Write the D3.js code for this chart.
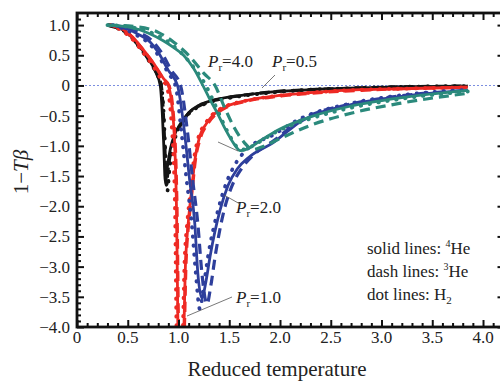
<!DOCTYPE html>
<html>
<head>
<meta charset="utf-8">
<script src="https://cdn.jsdelivr.net/npm/d3@7/dist/d3.min.js"></script>
<style>
  html, body { margin: 0; padding: 0; background: #fff; }
  svg { display: block; }
</style>
</head>
<body>
<svg id="chart" width="500" height="381" font-family="'Liberation Serif', 'Times New Roman', 'DejaVu Serif', serif"></svg>
<script>
// Reduced temperature vs. 1 - T*beta for three fluids at four reduced pressures.
// Each series is a list of [reduced temperature, 1 - T*beta] samples.

// P_r = 0.5 (black)
const he4_p05 = [[0.30,1.0],[0.40,0.96],[0.50,0.87],[0.60,0.68],[0.70,0.45],[0.77,0.24],[0.82,0.0],[0.84,-0.45],[0.855,-1.0],[0.87,-1.6],[0.89,-1.35],[0.92,-1.05],[0.96,-0.82],[1.01,-0.66],[1.10,-0.45],[1.20,-0.33],[1.35,-0.24],[1.60,-0.17],[1.90,-0.11],[2.30,-0.07],[2.80,-0.04],[3.30,-0.02],[3.85,-0.01]];
const he3_p05 = [[0.30,1.0],[0.40,0.95],[0.50,0.86],[0.60,0.67],[0.70,0.44],[0.78,0.22],[0.83,0.0],[0.85,-0.45],[0.865,-1.0],[0.88,-1.65],[0.90,-1.35],[0.93,-1.05],[0.97,-0.82],[1.02,-0.66],[1.10,-0.46],[1.20,-0.34],[1.35,-0.25],[1.60,-0.17],[1.90,-0.11],[2.30,-0.07],[2.80,-0.04],[3.30,-0.02],[3.85,-0.01]];
const h2_p05  = [[0.32,1.0],[0.42,0.93],[0.52,0.82],[0.62,0.62],[0.72,0.38],[0.79,0.18],[0.83,0.0],[0.855,-0.5],[0.87,-1.1],[0.89,-1.75],[0.91,-1.40],[0.94,-1.05],[0.98,-0.80],[1.03,-0.64],[1.10,-0.47],[1.20,-0.35],[1.35,-0.26],[1.60,-0.18],[1.90,-0.12],[2.30,-0.07],[2.80,-0.04],[3.30,-0.02],[3.85,-0.01]];

// P_r = 1.0 (red)
const he4_p10 = [[0.33,1.0],[0.45,0.93],[0.55,0.80],[0.65,0.60],[0.75,0.38],[0.85,0.12],[0.90,0.0],[0.95,-0.60],[0.98,-2.0],[1.00,-4.3],[1.045,-4.3],[1.07,-2.9],[1.10,-2.2],[1.13,-1.73],[1.16,-1.25],[1.20,-0.90],[1.28,-0.62],[1.41,-0.40],[1.70,-0.24],[1.93,-0.18],[2.30,-0.12],[2.80,-0.07],[3.30,-0.05],[3.85,-0.03]];
const he3_p10 = [[0.33,1.0],[0.45,0.92],[0.55,0.79],[0.65,0.59],[0.75,0.37],[0.85,0.11],[0.905,0.0],[0.955,-0.60],[0.985,-2.0],[1.005,-4.3],[1.05,-4.3],[1.075,-2.9],[1.105,-2.2],[1.135,-1.73],[1.165,-1.25],[1.21,-0.90],[1.29,-0.63],[1.42,-0.41],[1.70,-0.25],[1.93,-0.19],[2.30,-0.13],[2.80,-0.08],[3.30,-0.05],[3.85,-0.03]];
const h2_p10  = [[0.33,1.0],[0.45,0.90],[0.55,0.76],[0.65,0.55],[0.75,0.32],[0.84,0.08],[0.88,0.0],[0.93,-0.60],[0.965,-2.0],[0.985,-4.3],[1.035,-4.3],[1.06,-2.9],[1.09,-2.2],[1.12,-1.73],[1.15,-1.25],[1.19,-0.90],[1.27,-0.62],[1.40,-0.40],[1.70,-0.24],[1.93,-0.18],[2.30,-0.12],[2.80,-0.07],[3.30,-0.05],[3.85,-0.03]];

// P_r = 2.0 (blue)
const he4_p20 = [[0.35,1.0],[0.50,0.93],[0.60,0.85],[0.72,0.72],[0.80,0.55],[0.90,0.25],[0.99,0.0],[1.06,-0.79],[1.11,-1.57],[1.16,-2.28],[1.19,-3.1],[1.23,-3.52],[1.27,-3.25],[1.31,-2.84],[1.41,-2.06],[1.49,-1.65],[1.58,-1.38],[1.70,-1.18],[1.93,-0.95],[2.20,-0.60],[2.69,-0.32],[3.20,-0.18],[3.85,-0.08]];
const he3_p20 = [[0.35,1.0],[0.50,0.95],[0.62,0.87],[0.74,0.74],[0.83,0.55],[0.93,0.25],[1.02,0.0],[1.09,-0.79],[1.14,-1.57],[1.19,-2.28],[1.23,-3.1],[1.28,-3.62],[1.32,-3.3],[1.36,-2.84],[1.45,-2.06],[1.53,-1.65],[1.62,-1.38],[1.74,-1.15],[1.95,-0.90],[2.20,-0.58],[2.69,-0.31],[3.20,-0.17],[3.85,-0.08]];
const h2_p20  = [[0.35,1.0],[0.50,0.91],[0.60,0.82],[0.72,0.68],[0.80,0.50],[0.90,0.20],[0.97,0.0],[1.03,-0.79],[1.08,-1.57],[1.13,-2.28],[1.17,-3.1],[1.21,-3.70],[1.25,-3.3],[1.29,-2.84],[1.39,-2.06],[1.47,-1.62],[1.56,-1.30],[1.68,-1.05],[1.93,-0.82],[2.20,-0.55],[2.69,-0.30],[3.20,-0.16],[3.85,-0.07]];

// P_r = 4.0 (teal)
const he4_p40 = [[0.30,1.0],[0.50,0.97],[0.70,0.87],[0.85,0.74],[0.95,0.63],[1.05,0.50],[1.15,0.28],[1.24,0.0],[1.30,-0.20],[1.38,-0.45],[1.46,-0.72],[1.54,-0.95],[1.61,-1.08],[1.68,-1.05],[1.80,-0.92],[2.00,-0.72],[2.30,-0.52],[2.70,-0.34],[3.20,-0.20],[3.85,-0.08]];
const he3_p40 = [[0.30,1.0],[0.60,0.97],[0.80,0.88],[0.95,0.72],[1.10,0.50],[1.25,0.20],[1.36,0.0],[1.45,-0.35],[1.55,-0.70],[1.65,-0.95],[1.73,-1.06],[1.82,-1.02],[2.00,-0.88],[2.30,-0.66],[2.70,-0.46],[3.20,-0.29],[3.85,-0.13]];
const h2_p40  = [[0.30,1.0],[0.55,0.96],[0.75,0.86],[0.90,0.72],[1.02,0.55],[1.15,0.30],[1.27,0.0],[1.35,-0.28],[1.43,-0.58],[1.51,-0.85],[1.58,-1.02],[1.65,-1.06],[1.75,-0.98],[1.95,-0.78],[2.30,-0.55],[2.70,-0.37],[3.20,-0.22],[3.85,-0.10]];

const xTicksMajor = [0, 0.5, 1.0, 1.5, 2.0, 2.5, 3.0, 3.5, 4.0];
const xTickLabels = ["0", "0.5", "1.0", "1.5", "2.0", "2.5", "3.0", "3.5", "4.0"];
const yTicksMajor = [1.0, 0.5, 0, -0.5, -1.0, -1.5, -2.0, -2.5, -3.0, -3.5, -4.0];
const yTickLabels = ["1.0", "0.5", "0", "\u22120.5", "\u22121.0", "\u22121.5", "\u22122.0", "\u22122.5", "\u22123.0", "\u22123.5", "\u22124.0"];

const colors = { p05: "#141414", p10: "#ee2a24", p20: "#2e3f9c", p40: "#2b8a7c" };

const series = [
  { data: he4_p05, color: colors.p05, style: "solid" },
  { data: he3_p05, color: colors.p05, style: "dash" },
  { data: h2_p05,  color: colors.p05, style: "dot" },
  { data: he4_p10, color: colors.p10, style: "solid" },
  { data: he3_p10, color: colors.p10, style: "dash" },
  { data: h2_p10,  color: colors.p10, style: "dot" },
  { data: he4_p20, color: colors.p20, style: "solid" },
  { data: he3_p20, color: colors.p20, style: "dash" },
  { data: h2_p20,  color: colors.p20, style: "dot" },
  { data: he4_p40, color: colors.p40, style: "solid" },
  { data: he3_p40, color: colors.p40, style: "dash" },
  { data: h2_p40,  color: colors.p40, style: "dot" }
];

const svg = d3.select("#chart");
const plotL = 77, plotR = 502.5, plotT = 13, plotB = 327;
const textColor = "#222";

const x = d3.scaleLinear().domain([0, 4.192]).range([plotL, plotR]);
const y = d3.scaleLinear().domain([-4, 1.2]).range([plotB, plotT]);

const minorX = d3.range(0, 42, 1).map(v => v / 10).filter(v => Math.abs(v * 2 - Math.round(v * 2)) > 1e-6);
const minorY = d3.range(-40, 12, 1).map(v => v / 10).filter(v => Math.abs(v * 2 - Math.round(v * 2)) > 1e-6);

svg.append("clipPath").attr("id", "plot-clip")
  .append("rect").attr("x", plotL).attr("y", plotT).attr("width", plotR - plotL).attr("height", plotB - plotT);

// zero reference line
svg.append("line")
  .attr("x1", plotL).attr("x2", plotR)
  .attr("y1", y(0)).attr("y2", y(0))
  .attr("stroke", "#7b8ee0").attr("stroke-width", 1.1)
  .attr("stroke-dasharray", "2,2");

const line = d3.line()
  .x(d => x(d[0]))
  .y(d => y(d[1]))
  .curve(d3.curveMonotoneX);

const curves = svg.append("g").attr("clip-path", "url(#plot-clip)");
series.forEach(s => {
  const p = curves.append("path")
    .attr("d", line(s.data))
    .attr("fill", "none")
    .attr("stroke", s.color)
    .attr("stroke-linejoin", "round");
  if (s.style === "solid") {
    p.attr("stroke-width", 2.8);
  } else if (s.style === "dash") {
    p.attr("stroke-width", 3.2).attr("stroke-dasharray", "10,6");
  } else {
    p.attr("stroke-width", 3.8).attr("stroke-linecap", "round").attr("stroke-dasharray", "0.5,8.5");
  }
});

// axes: ticks point into the plot
function tickAxis(axisFn, scale, values, size) {
  return axisFn(scale).tickValues(values).tickSize(size).tickFormat("");
}
const axisColor = "#111";
function styleAxis(g) {
  g.select(".domain").remove();
  g.selectAll(".tick line").attr("stroke", axisColor).attr("stroke-width", 2);
}

svg.append("g").attr("transform", `translate(0,${plotB})`)
  .call(tickAxis(d3.axisTop, x, xTicksMajor, 7)).call(styleAxis);
svg.append("g").attr("transform", `translate(0,${plotB})`)
  .call(tickAxis(d3.axisTop, x, minorX, 4)).call(styleAxis);
svg.append("g").attr("transform", `translate(0,${plotT})`)
  .call(tickAxis(d3.axisBottom, x, xTicksMajor, 7)).call(styleAxis);
svg.append("g").attr("transform", `translate(0,${plotT})`)
  .call(tickAxis(d3.axisBottom, x, minorX, 4)).call(styleAxis);
svg.append("g").attr("transform", `translate(${plotL},0)`)
  .call(tickAxis(d3.axisRight, y, yTicksMajor, 7)).call(styleAxis);
svg.append("g").attr("transform", `translate(${plotL},0)`)
  .call(tickAxis(d3.axisRight, y, minorY, 4)).call(styleAxis);
svg.append("g").attr("transform", `translate(${plotR},0)`)
  .call(tickAxis(d3.axisLeft, y, yTicksMajor, 5)).call(styleAxis);

// frame
svg.append("rect")
  .attr("x", plotL).attr("y", plotT).attr("width", plotR - plotL).attr("height", plotB - plotT)
  .attr("fill", "none").attr("stroke", axisColor).attr("stroke-width", 2.8);

// tick labels
svg.append("g").selectAll("text").data(xTicksMajor).join("text")
  .attr("x", d => x(d)).attr("y", 343)
  .attr("text-anchor", "middle").attr("font-size", 17).attr("fill", textColor)
  .text((d, i) => xTickLabels[i]);
svg.append("g").selectAll("text").data(yTicksMajor).join("text")
  .attr("x", 70).attr("y", d => y(d) + 6)
  .attr("text-anchor", "end").attr("font-size", 17).attr("fill", textColor)
  .text((d, i) => yTickLabels[i]);

// axis titles
svg.append("text").attr("x", 277).attr("y", 376)
  .attr("text-anchor", "middle").attr("font-size", 21).attr("fill", textColor)
  .text("Reduced temperature");
const yt = svg.append("text")
  .attr("transform", "translate(28,172) rotate(-90)")
  .attr("text-anchor", "middle").attr("font-size", 21).attr("fill", textColor);
yt.append("tspan").text("1\u2212");
yt.append("tspan").attr("font-style", "italic").text("T\u03b2");

// pressure labels with leader lines
function prLabel(px, py, value) {
  const t = svg.append("text").attr("x", px).attr("y", py).attr("font-size", 17).attr("fill", textColor);
  t.append("tspan").attr("font-style", "italic").text("P");
  t.append("tspan").attr("font-size", 11).attr("dy", 4).text("r");
  t.append("tspan").attr("dy", -4).text("=" + value);
}
prLabel(208, 67, "4.0");
prLabel(272, 67, "0.5");
prLabel(236, 213, "2.0");
prLabel(236, 303, "1.0");

const leaders = [
  [[275, 75], [262, 88]],
  [[218, 142], [238, 151]],
  [[224, 195], [240, 204]],
  [[187, 316], [232, 297]]
];
leaders.forEach(l => svg.append("line")
  .attr("x1", l[0][0]).attr("y1", l[0][1]).attr("x2", l[1][0]).attr("y2", l[1][1])
  .attr("stroke", "#555").attr("stroke-width", 0.8));

// legend notes
const notes = [
  { y: 254, pre: "solid lines: ", sup: "4", base: "He", sub: "" },
  { y: 277, pre: "dash lines: ", sup: "3", base: "He", sub: "" },
  { y: 300, pre: "dot lines: ", sup: "", base: "H", sub: "2" }
];
notes.forEach(n => {
  const t = svg.append("text").attr("x", 367).attr("y", n.y).attr("font-size", 17).attr("fill", textColor);
  t.append("tspan").text(n.pre);
  if (n.sup) {
    t.append("tspan").attr("font-size", 10).attr("dy", -7).text(n.sup);
    t.append("tspan").attr("dy", 7).text(n.base);
  } else {
    t.append("tspan").text(n.base);
    t.append("tspan").attr("font-size", 11).attr("dy", 4).text(n.sub);
  }
});
</script>
</body>
</html>
